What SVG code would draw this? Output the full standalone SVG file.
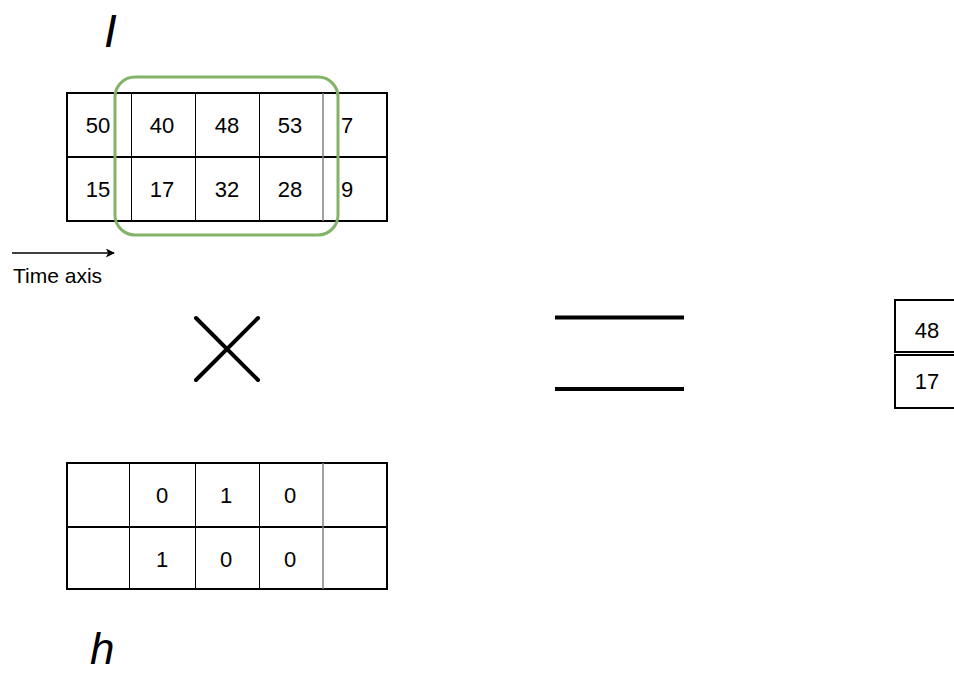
<svg xmlns="http://www.w3.org/2000/svg" width="954" height="674" viewBox="0 0 954 674">
<defs>
<style>
.row{fill:#fff;stroke:#000;stroke-width:2}
.col{stroke:#000;stroke-width:1}
.colg{stroke:#808080;stroke-width:1.5}
.num{font-family:"Liberation Sans",Arial,sans-serif;font-size:22px;fill:#000;text-anchor:middle}
.numl{font-family:"Liberation Sans",Arial,sans-serif;font-size:22px;fill:#000}
.lbl{font-family:"Liberation Sans",Arial,sans-serif;font-size:46px;font-style:italic;fill:#000}
.op{stroke:#000;stroke-width:4;fill:none}
</style>
<marker id="arr" viewBox="0 0 10 10" refX="9" refY="5" markerWidth="10" markerHeight="9" markerUnits="userSpaceOnUse" orient="auto">
<path d="M0,0 L10,5 L0,10 L2.5,5 Z" fill="#000"/>
</marker>
</defs>
<rect width="954" height="674" fill="#fff"/>

<g id="label-I"><text class="lbl" x="104" y="47">I</text></g>

<g id="table-I">
<rect class="row" x="67" y="93" width="320" height="64"/>
<rect class="row" x="67" y="157" width="320" height="64"/>
<line class="col" x1="131.5" y1="93" x2="131.5" y2="221"/>
<line class="col" x1="195.5" y1="93" x2="195.5" y2="221"/>
<line class="col" x1="259.5" y1="93" x2="259.5" y2="221"/>
<line class="colg" x1="323" y1="93" x2="323" y2="221"/>
<text class="num" x="98" y="133">50</text>
<text class="num" x="162" y="133">40</text>
<text class="num" x="227" y="133">48</text>
<text class="num" x="290" y="133">53</text>
<text class="numl" x="341" y="133">7</text>
<text class="num" x="98" y="197">15</text>
<text class="num" x="162" y="197">17</text>
<text class="num" x="227" y="197">32</text>
<text class="num" x="290" y="197">28</text>
<text class="numl" x="341" y="197">9</text>
</g>

<g id="window">
<rect x="115" y="77" width="223" height="158" rx="20" ry="20" fill="none" stroke="#82b366" stroke-width="3"/>
</g>

<g id="connectors">
<line x1="12" y1="253" x2="114" y2="253" stroke="#000" stroke-width="1.5" marker-end="url(#arr)"/>
</g>
<g id="time-axis-label"><text class="numl" x="13" y="283" style="font-size:21px">Time axis</text></g>

<g id="times">
<line class="op" x1="196" y1="318" x2="258" y2="380" stroke-linecap="round"/>
<line class="op" x1="258" y1="318" x2="196" y2="380" stroke-linecap="round"/>
</g>

<g id="equals">
<line class="op" x1="555" y1="317.5" x2="684" y2="317.5"/>
<line class="op" x1="555" y1="389" x2="684" y2="389"/>
</g>

<g id="result">
<rect class="row" x="895" y="300" width="64" height="52"/>
<rect class="row" x="895" y="355" width="64" height="53"/>
<text class="num" x="927" y="338">48</text>
<text class="num" x="927" y="389">17</text>
</g>

<g id="table-h">
<rect class="row" x="67" y="463" width="320" height="64"/>
<rect class="row" x="67" y="527" width="320" height="62"/>
<line class="col" x1="129.5" y1="463" x2="129.5" y2="589"/>
<line class="col" x1="195.5" y1="463" x2="195.5" y2="589"/>
<line class="col" x1="259.5" y1="463" x2="259.5" y2="589"/>
<line class="colg" x1="323" y1="463" x2="323" y2="589"/>
<text class="num" x="162" y="503">0</text>
<text class="num" x="226" y="503">1</text>
<text class="num" x="290" y="503">0</text>
<text class="num" x="162" y="567">1</text>
<text class="num" x="226" y="567">0</text>
<text class="num" x="290" y="567">0</text>
</g>

<g id="label-h"><text class="lbl" x="90" y="664" style="font-size:44px">h</text></g>
</svg>
